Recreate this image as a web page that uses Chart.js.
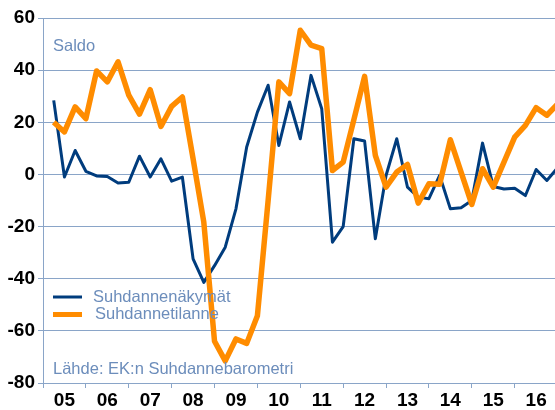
<!DOCTYPE html>
<html>
<head>
<meta charset="utf-8">
<script src="https://cdn.jsdelivr.net/npm/chart.js@4.4.1/dist/chart.umd.min.js"></script>
<style>
  html, body { margin: 0; padding: 0; background: #fff; }
  #wrap { width: 555px; height: 410px; position: relative; }
</style>
</head>
<body>
<div id="wrap"><canvas id="chart"></canvas></div>
<script>
const yearLabels = ['05', '06', '07', '08', '09', '10', '11', '12', '13', '14', '15', '16'];
const yTicks = [-80, -60, -40, -20, 0, 20, 40, 60];
const seriesNames = ['Suhdannenäkymät', 'Suhdannetilanne'];

// quarterly saldo, 2005 Q1 .. 2016 Q4
const nakymat = [28.4, -1, 9.2, 1.2, -0.6, -0.8, -3.3, -3, 7, -1, 6, -2.6,
    -1, -32.4, -41.4, -35, -27.9, -13.2, 10.5, 23.9, 34.2, 11.1, 27.8, 13.7,
    38, 25.2, -26, -20, 13.7, 12.8, -24.7, -0.4, 13.7, -4.9, -8.7, -9.3,
    -0.4, -13.2, -12.8, -10, 12, -4.6, -5.6, -5.3, -8.1, 1.9, -2.3, 2.5];
const tilanne = [20, 16.3, 25.9, 21.4, 39.7, 35.5, 43.2, 30.4, 23.1, 32.5, 18.4, 26.1,
    29.7, 6, -18.3, -64, -71.5, -63.1, -64.8, -54.2, -10, 35.5, 31, 55.3,
    49.6, 48.3, 1.5, 4.7, 21, 37.6, 7.3, -4.9, 0.9, 3.8, -11, -3.6,
    -3.8, 13.3, 0.9, -11.5, 2.2, -4.9, 4.7, 14.3, 18.8, 25.6, 22.7, 27];

const GRID = '#8aa5c8';
const TEXT = '#6c8dbb';
const FONT = "'Liberation Sans', Arial, sans-serif";

const toPoints = arr => arr.map((v, i) => ({ x: (i + 1) / 4, y: v }));

const overlay = {
    id: 'overlay',
    afterDraw(chart) {
        const ctx = chart.ctx;
        ctx.save();
        ctx.font = `16.5px ${FONT}`;
        ctx.fillStyle = TEXT;
        ctx.textBaseline = 'middle';
        ctx.fillText('Saldo', 53, 46);
        ctx.fillText('Lähde: EK:n Suhdannebarometri', 53, 369);

        chart.data.datasets.forEach((ds, i) => {
            const y = 297 + i * 17.5;
            ctx.strokeStyle = ds.borderColor;
            ctx.lineWidth = Math.min(ds.borderWidth, 5);
            ctx.beginPath();
            ctx.moveTo(53, y);
            ctx.lineTo(82, y);
            ctx.stroke();
            ctx.fillStyle = TEXT;
            ctx.fillText(ds.label, 93 + i * 2, y);
        });
        ctx.restore();
    }
};

new Chart(document.getElementById('chart'), {
    type: 'line',
    data: {
        datasets: [
            { label: seriesNames[0], data: toPoints(nakymat), borderColor: '#003c7d', borderWidth: 3, order: 2 },
            { label: seriesNames[1], data: toPoints(tilanne), borderColor: '#ff8c00', borderWidth: 5.5, order: 1 }
        ]
    },
    options: {
        responsive: true,
        maintainAspectRatio: false,
        animation: false,
        layout: { padding: { top: 18, right: 0, bottom: 0, left: 0 } },
        elements: {
            point: { radius: 0 },
            line: { tension: 0, borderJoinStyle: 'round', borderCapStyle: 'butt' }
        },
        plugins: { legend: { display: false }, tooltip: { enabled: false } },
        scales: {
            x: {
                type: 'linear',
                min: 0,
                max: 11.94,
                afterBuildTicks: s => { s.ticks = yearLabels.flatMap((_, i) => [{ value: i }, { value: i + 0.5 }]); },
                afterFit: s => { s.height = 27; },
                ticks: {
                    autoSkip: false,
                    maxRotation: 0,
                    padding: 1,
                    color: '#000',
                    font: { family: FONT, size: 19, weight: 'bold' },
                    callback: v => Number.isInteger(v) ? '' : yearLabels[Math.floor(v)]
                },
                grid: {
                    drawOnChartArea: false,
                    tickLength: 5,
                    color: c => Number.isInteger(c.tick.value) ? GRID : 'rgba(0,0,0,0)'
                },
                border: { color: GRID }
            },
            y: {
                min: -80,
                max: 60,
                afterBuildTicks: s => { s.ticks = yTicks.map(v => ({ value: v })); },
                afterFit: s => { s.width = 43; },
                ticks: {
                    padding: 3,
                    color: '#000',
                    font: { family: FONT, size: 19, weight: 'bold' }
                },
                grid: { color: GRID, tickLength: 5 },
                border: { color: GRID }
            }
        }
    },
    plugins: [overlay]
});
</script>
</body>
</html>
